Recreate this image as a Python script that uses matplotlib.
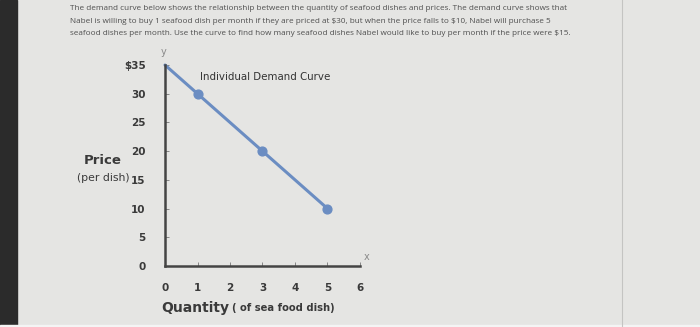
import matplotlib.pyplot as plt
from matplotlib.patches import Rectangle

# demand curve data
quantity = [0, 1, 3, 5]
price = [35, 30, 20, 10]
dot_qty = [1, 3, 5]
dot_price = [30, 20, 10]
x_ticks = [0, 1, 2, 3, 4, 5, 6]
y_ticks = [0, 5, 10, 15, 20, 25, 30, 35]
y_labels = ['0', '5', '10', '15', '20', '25', '30', '$35']

question = [
    "The demand curve below shows the relationship between the quantity of seafood dishes and prices. The demand curve shows that",
    "Nabel is willing to buy 1 seafood dish per month if they are priced at $30, but when the price falls to $10, Nabel will purchase 5",
    "seafood dishes per month. Use the curve to find how many seafood dishes Nabel would like to buy per month if the price were $15.",
]

W, H = 700, 327
fig = plt.figure(figsize=(7, 3.27), dpi=100)
fig.patch.set_facecolor('#e5e5e3')

# photo edges
fig.patches.append(Rectangle((0, 0), 17 / W, 1, transform=fig.transFigure, color='#2b2b2b', zorder=0))
fig.patches.append(Rectangle((0, 0), 1, 2 / H, transform=fig.transFigure, color='#f4f4f4', zorder=0))
fig.lines.append(plt.Line2D([622 / W, 622 / W], [0, 1], transform=fig.transFigure, color='#c4c4c2', lw=0.8))

for i, line in enumerate(question):
    fig.text(70 / W, 1 - (9 + i * 12.3) / H, line, fontsize=5.85, color='#4f4f4f',
             family='Open Sans', va='center', ha='left', parse_math=False)

ax = fig.add_axes([165 / W, (H - 266) / H, 195 / W, 201 / H])
ax.set_facecolor('none')
ax.set_xlim(0, 6)
ax.set_ylim(0, 35)

ax.plot(quantity, price, color='#6b8dc2', lw=2.2, solid_capstyle='round', clip_on=False)
ax.scatter(dot_qty, dot_price, s=40, color='#6b8dc2', zorder=3, clip_on=False)

for s in ['top', 'right']:
    ax.spines[s].set_visible(False)
for s in ['left', 'bottom']:
    ax.spines[s].set_color('#444444')
    ax.spines[s].set_linewidth(1.8)

ax.set_xticks(x_ticks)
ax.set_xticklabels([str(v) for v in x_ticks])
ax.set_yticks(y_ticks)
ax.set_yticklabels(y_labels)
ax.tick_params(axis='both', direction='in', length=3, width=0.6, color='#777777',
               labelsize=7.5, labelcolor='#3a3a3a', pad=12)
ax.tick_params(axis='y', pad=14)
for lbl in ax.get_xticklabels() + ax.get_yticklabels():
    lbl.set_fontweight('bold')

ax.text(1.07, 32.9, 'Individual Demand Curve', fontsize=7.4, color='#333333', va='center')
ax.text(-0.05, 37.2, 'y', fontsize=7, color='#8a8a8a', ha='center', va='center')
ax.text(6.2, 1.6, 'x', fontsize=7, color='#8a8a8a', ha='center', va='center')

fig.text(103 / W, 1 - 160 / H, 'Price', fontsize=9.5, fontweight='bold', color='#3a3a3a', ha='center', va='center')
fig.text(103 / W, 1 - 178 / H, '(per dish)', fontsize=7.8, color='#3a3a3a', ha='center', va='center')
fig.text(161 / W, 1 - 308 / H, 'Quantity', fontsize=10, fontweight='bold', color='#3a3a3a', ha='left', va='center')
fig.text(232 / W, 1 - 308 / H, '( of sea food dish)', fontsize=7.2, fontweight='bold', color='#3a3a3a', ha='left', va='center')

plt.savefig('out.png', dpi=100, facecolor=fig.get_facecolor())
